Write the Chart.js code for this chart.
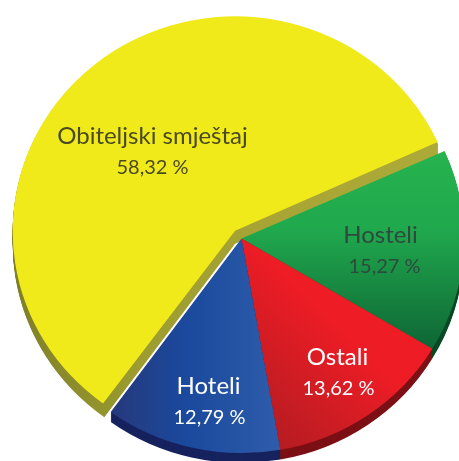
<!DOCTYPE html>
<html>
<head>
<meta charset="utf-8">
<script src="https://cdn.jsdelivr.net/npm/chart.js@4"></script>
<style>
    html, body { margin: 0; padding: 0; background: #fff; overflow: hidden; }
    .wrap { width: 459px; height: 461px; overflow: hidden; position: relative; }
    canvas { position: absolute; left: 0; top: 0; }
</style>
</head>
<body>
<div class="wrap"><canvas id="chart" width="483" height="477"></canvas></div>
<script>
const categories = ['Obiteljski smještaj', 'Hosteli', 'Ostali', 'Hoteli'];
const shares = [58.32, 15.27, 13.62, 12.79];
const shareLabels = ['58,32 %', '15,27 %', '13,62 %', '12,79 %'];

const DEPTHS = [13, 10, 10, 10];
const SCALE_X = 1.018;
const SCALE_Y = 0.982;
const NAME_FONT = '24px Lato';
const SHARE_FONT = '20px Lato';

const ctx = document.getElementById('chart').getContext('2d');

function gradient(x0, y0, x1, y1, stops) {
    const g = ctx.createLinearGradient(x0, y0, x1, y1);
    stops.forEach(function(s) { g.addColorStop(s[0], s[1]); });
    return g;
}

const faces = [
    '#f1ea1a',
    gradient(0, 150, 0, 350, [[0, '#27b34f'], [0.4, '#20a84d'], [1, '#0e6635']]),
    gradient(250, 430, 345, 335, [[0, '#b31c22'], [1, '#ee1c25']]),
    gradient(110, 0, 280, 0, [[0, '#27387a'], [0.45, '#1a499d'], [1, '#2f5dab']])
];
const sides = [
    gradient(12, 0, 440, 0, [[0, '#7d7d28'], [0.3, '#9c9c30'], [0.6, '#a8a535'], [1, '#aeaa38']]),
    '#0a4a25',
    '#7c1015',
    '#16235e'
];

// text colour and where it sits relative to the pie centre
const labelColors = ['#4a4a22', '#2e4a3c', '#ffffff', '#ffffff'];
const labelSpots = [[-89, -95], [139, 4], [96, 126], [-33, 155]];
const shareShift = [0, 4, 1, 1];

const pie3d = {
    id: 'pie3d',
    afterDatasetsUpdate(chart) {
        // arc draws offset/4 wider than its radius, take it back
        chart.getDatasetMeta(0).data.forEach(function(arc) {
            arc.outerRadius -= (arc.options.offset || 0) / 4;
        });
    },
    beforeDatasetsDraw(chart) {
        const c = chart.ctx;
        const first = chart.getDatasetMeta(0).data[0];
        c.save();
        c.translate(first.x, first.y);
        c.scale(SCALE_X, SCALE_Y);
        c.translate(-first.x, -first.y);
        chart.getDatasetMeta(0).data.forEach(function(arc, i) {
            const off = (arc.options.offset || 0) / 4;
            const mid = (arc.startAngle + arc.endAngle) / 2;
            const px = arc.x + Math.cos(mid) * off;
            const py = arc.y + Math.sin(mid) * off;
            const r = arc.outerRadius + off;
            c.fillStyle = sides[i];
            for (let d = DEPTHS[i]; d > 0; d--) {
                c.beginPath();
                c.moveTo(px, py + d);
                c.arc(px, py + d, r, arc.startAngle, arc.endAngle);
                c.closePath();
                c.fill();
            }
        });
    },
    afterDatasetsDraw(chart) {
        const c = chart.ctx;
        c.restore();
        const first = chart.getDatasetMeta(0).data[0];
        c.save();
        c.textAlign = 'center';
        c.textBaseline = 'alphabetic';
        categories.forEach(function(name, i) {
            const x = first.x + labelSpots[i][0];
            const y = first.y + labelSpots[i][1];
            c.fillStyle = labelColors[i];
            c.font = NAME_FONT;
            c.fillText(name, x, y);
            c.font = SHARE_FONT;
            c.fillText(shareLabels[i], x + shareShift[i], y + 30);
        });
        c.restore();
    }
};

const myChart = new Chart(ctx, {
    type: 'pie',
    data: {
        labels: categories,
        datasets: [{
            data: shares,
            backgroundColor: faces,
            borderWidth: 0,
            offset: [40, 0, 0, 0],
            clip: false
        }]
    },
    options: {
        responsive: false,
        animation: false,
        rotation: 216,
        layout: { padding: { left: 3, right: 3, top: 0, bottom: 0 } },
        plugins: {
            legend: { display: false },
            tooltip: { enabled: false },
            title: { display: false }
        }
    },
    plugins: [pie3d]
});
</script>
</body>
</html>
